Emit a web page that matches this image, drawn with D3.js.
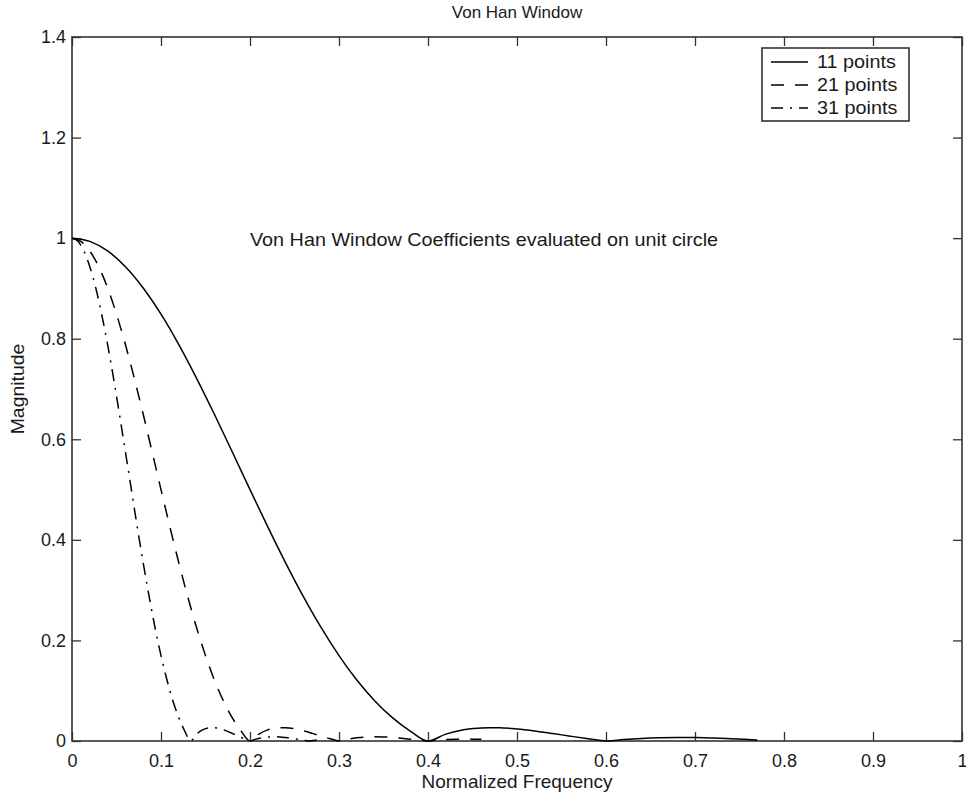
<!DOCTYPE html>
<html>
<head>
<meta charset="utf-8">
<script src="https://cdn.jsdelivr.net/npm/d3@7"></script>
<style>
  html, body { margin: 0; padding: 0; background: #fff; }
  svg { display: block; }
  text { font-family: "Liberation Sans", Arial, Helvetica, sans-serif; fill: #1a1a1a; }
</style>
</head>
<body>
<svg id="chart" width="966" height="794"></svg>
<script>
// ---------- data ----------
const titleText = "Von Han Window";
const xLabelText = "Normalized Frequency";
const yLabelText = "Magnitude";
const annotationText = "Von Han Window Coefficients evaluated on unit circle";

const xTicks = [0, 0.1, 0.2, 0.3, 0.4, 0.5, 0.6, 0.7, 0.8, 0.9, 1];
const xTickLabels = ["0", "0.1", "0.2", "0.3", "0.4", "0.5", "0.6", "0.7", "0.8", "0.9", "1"];
const yTicks = [0, 0.2, 0.4, 0.6, 0.8, 1, 1.2, 1.4];
const yTickLabels = ["0", "0.2", "0.4", "0.6", "0.8", "1", "1.2", "1.4"];

const seriesNames = ["11 points", "21 points", "31 points"];

const freq11 = [0, 0.02, 0.04, 0.06, 0.08, 0.10, 0.12, 0.14, 0.16, 0.18, 0.20, 0.22, 0.24, 0.26, 0.28, 0.30,
  0.32, 0.34, 0.36, 0.38, 0.40, 0.42, 0.44, 0.46, 0.48, 0.50, 0.52, 0.54, 0.56, 0.58, 0.60, 0.62, 0.64,
  0.66, 0.68, 0.70, 0.72, 0.74, 0.76, 0.77];
const mag11 = [1, 0.9936, 0.9745, 0.9433, 0.9010, 0.8488, 0.7884, 0.7213, 0.6497, 0.5752, 0.5000, 0.4258,
  0.3544, 0.2871, 0.2253, 0.1698, 0.1213, 0.0802, 0.0464, 0.0198, 0, 0.0137, 0.0222, 0.0261, 0.0262,
  0.0240, 0.0200, 0.0150, 0.0096, 0.0045, 0, 0.0030, 0.0052, 0.0065, 0.0070, 0.0068, 0.0058, 0.0045,
  0.0030, 0.0022];

const freq21 = [0, 0.01, 0.02, 0.03, 0.04, 0.05, 0.06, 0.07, 0.08, 0.09, 0.10, 0.11, 0.12, 0.13, 0.14, 0.15,
  0.16, 0.17, 0.18, 0.19, 0.20, 0.21, 0.22, 0.23, 0.24, 0.25, 0.26, 0.27, 0.28, 0.29, 0.30, 0.31, 0.32,
  0.33, 0.34, 0.35, 0.36, 0.37, 0.38, 0.39, 0.40, 0.41, 0.42, 0.43, 0.44, 0.45, 0.46];
const mag21 = [1, 0.9936, 0.9745, 0.9433, 0.9010, 0.8488, 0.7884, 0.7213, 0.6497, 0.5752, 0.5000, 0.4258,
  0.3544, 0.2871, 0.2253, 0.1698, 0.1213, 0.0802, 0.0464, 0.0198, 0, 0.0137, 0.0222, 0.0261, 0.0265,
  0.0243, 0.0202, 0.0152, 0.0098, 0.0046, 0, 0.0037, 0.0063, 0.0079, 0.0084, 0.0081, 0.0070, 0.0055,
  0.0037, 0.0018, 0, 0.0015, 0.0027, 0.0034, 0.0038, 0.0037, 0.0033];

const freq31 = [0, 0.0067, 0.0133, 0.0200, 0.0267, 0.0333, 0.0400, 0.0467, 0.0533, 0.0600, 0.0667, 0.0733,
  0.0800, 0.0867, 0.0933, 0.1000, 0.1067, 0.1133, 0.1200, 0.1267, 0.1333, 0.1400, 0.1467, 0.1533, 0.1600,
  0.1667, 0.1733, 0.1800, 0.1867, 0.1933, 0.2000, 0.2067, 0.2133, 0.2200, 0.2267, 0.2333, 0.2400, 0.2467,
  0.2533, 0.2600, 0.2667, 0.2733, 0.2800];
const mag31 = [1, 0.9936, 0.9745, 0.9433, 0.9010, 0.8488, 0.7884, 0.7213, 0.6497, 0.5752, 0.5000, 0.4258,
  0.3544, 0.2871, 0.2253, 0.1698, 0.1213, 0.0802, 0.0464, 0.0198, 0, 0.0137, 0.0222, 0.0261, 0.0265,
  0.0243, 0.0202, 0.0152, 0.0098, 0.0046, 0, 0.0037, 0.0063, 0.0079, 0.0084, 0.0081, 0.0070, 0.0055,
  0.0037, 0.0018, 0, 0.0015, 0.0027];

// ---------- layout / styles ----------
const plot = { left: 72, top: 37, right: 962, bottom: 741 };
const fontSize = 18;
const axisColor = "#333";
const lineStyles = [
  { dash: null },
  { dash: "13,11" },
  { dash: "12,7,2,7" }
];

const svg = d3.select("#chart");
const x = d3.scaleLinear().domain([0, 1]).range([plot.left, plot.right]);
const y = d3.scaleLinear().domain([0, 1.4]).range([plot.bottom, plot.top]);

// axes with inward ticks on all four sides
function styleAxis(g) {
  g.select(".domain").remove();
  g.selectAll(".tick line").attr("stroke", axisColor).attr("stroke-width", 1.3);
  g.selectAll(".tick text").attr("font-size", fontSize).attr("fill", "#1a1a1a")
    .style("font-family", '"Liberation Sans", Arial, Helvetica, sans-serif');
}

svg.append("g").attr("transform", `translate(0,${plot.bottom})`)
  .call(d3.axisBottom(x).tickValues(xTicks).tickFormat((d, i) => xTickLabels[i])
    .tickSizeInner(-9).tickSizeOuter(0).tickPadding(13))
  .call(styleAxis);
svg.append("g").attr("transform", `translate(0,${plot.top})`)
  .call(d3.axisTop(x).tickValues(xTicks).tickFormat("").tickSizeInner(-9).tickSizeOuter(0))
  .call(styleAxis);
svg.append("g").attr("transform", `translate(${plot.left},0)`)
  .call(d3.axisLeft(y).tickValues(yTicks).tickFormat((d, i) => yTickLabels[i])
    .tickSizeInner(-9).tickSizeOuter(0).tickPadding(6))
  .call(styleAxis);
svg.append("g").attr("transform", `translate(${plot.right},0)`)
  .call(d3.axisRight(y).tickValues(yTicks).tickFormat("").tickSizeInner(-9).tickSizeOuter(0))
  .call(styleAxis);

svg.append("rect")
  .attr("x", plot.left).attr("y", plot.top)
  .attr("width", plot.right - plot.left).attr("height", plot.bottom - plot.top)
  .attr("fill", "none").attr("stroke", axisColor).attr("stroke-width", 1.6);

// series
const series = [
  { name: seriesNames[0], f: freq11, m: mag11 },
  { name: seriesNames[1], f: freq21, m: mag21 },
  { name: seriesNames[2], f: freq31, m: mag31 }
];
const line = d3.line().x(d => x(d[0])).y(d => y(d[1])).curve(d3.curveMonotoneX);
series.forEach((s, i) => {
  const pts = s.f.map((f, k) => [f, s.m[k]]);
  svg.append("path").datum(pts)
    .attr("d", line)
    .attr("fill", "none")
    .attr("stroke", "#000")
    .attr("stroke-width", 1.5)
    .attr("stroke-dasharray", lineStyles[i].dash);
});

// titles (the reference's Helvetica is slightly wider than Liberation Sans)
svg.append("text").attr("x", (plot.left + plot.right) / 2).attr("y", 18)
  .attr("text-anchor", "middle").attr("font-size", fontSize - 1).text(titleText);
svg.append("text")
  .attr("transform", `translate(${(plot.left + plot.right) / 2},788) scale(1.055,1)`)
  .attr("text-anchor", "middle").attr("font-size", fontSize).text(xLabelText);
svg.append("text").attr("transform", `translate(24,${(plot.top + plot.bottom) / 2}) rotate(-90) scale(1.08,1)`)
  .attr("text-anchor", "middle").attr("font-size", fontSize).text(yLabelText);
svg.append("text").attr("transform", "translate(250,246) scale(1.1,1)")
  .attr("font-size", fontSize).text(annotationText);

// legend
const lg = { x: 762, y: 48, w: 147, h: 73 };
svg.append("rect").attr("x", lg.x).attr("y", lg.y).attr("width", lg.w).attr("height", lg.h)
  .attr("fill", "#fff").attr("stroke", axisColor).attr("stroke-width", 1.6);
series.forEach((s, i) => {
  const yy = lg.y + 14 + i * 23;
  svg.append("line").attr("x1", lg.x + 9).attr("x2", lg.x + 46)
    .attr("y1", yy).attr("y2", yy)
    .attr("stroke", "#000").attr("stroke-width", 1.5)
    .attr("stroke-dasharray", lineStyles[i].dash);
  svg.append("text").attr("transform", `translate(${lg.x + 55},${yy + 6}) scale(1.1,1)`)
    .attr("font-size", fontSize).text(s.name);
});
</script>
</body>
</html>
